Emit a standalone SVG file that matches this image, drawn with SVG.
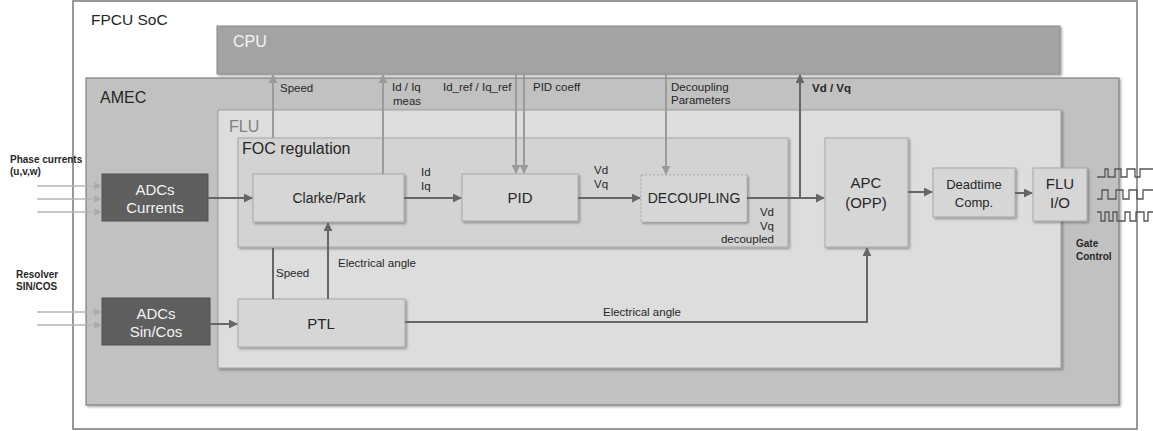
<svg xmlns="http://www.w3.org/2000/svg" width="1153" height="431" viewBox="0 0 1153 431">
<defs>
<style>
.t{font-family:"Liberation Sans",Arial,sans-serif;fill:#262626}
.lbl{font-size:11.5px}
.big{font-size:15px;text-anchor:middle}
.wh{fill:#f4f4f4}
.bold{font-weight:bold;font-size:10px;fill:#262626}
.node{fill:#d6d6d6;stroke:#a8a8a8;stroke-width:1}
.dark{fill:#5f5f5f;stroke:#505050;stroke-width:1}
.c{fill:none;stroke:#666;stroke-width:2}
.cl{fill:none;stroke:#9a9a9a;stroke-width:2}
.in{fill:none;stroke:#b4b4b4;stroke-width:1.5}
</style>
<filter id="sh" x="-10%" y="-10%" width="130%" height="130%"><feDropShadow dx="1.5" dy="1.5" stdDeviation="0.8" flood-color="#000" flood-opacity="0.35"/></filter>
<marker id="ad" viewBox="0 0 10 10" refX="9" refY="5" markerWidth="4.5" markerHeight="4.5" orient="auto"><path d="M0,0 L10,5 L0,10 z" fill="#666"/></marker>
<marker id="al" viewBox="0 0 10 10" refX="9" refY="5" markerWidth="4.5" markerHeight="4.5" orient="auto"><path d="M0,0 L10,5 L0,10 z" fill="#9a9a9a"/></marker>
<marker id="ai" viewBox="0 0 10 10" refX="9" refY="5" markerWidth="5" markerHeight="5" orient="auto"><path d="M0,0 L10,5 L0,10 z" fill="#aaa"/></marker>
</defs>
<rect width="1153" height="431" fill="#fff"/>

<g id="fpcu">
<rect x="73" y="1" width="1064" height="428" fill="#fff" stroke="#777" stroke-width="1.5"/>
<text class="t" x="91" y="25" font-size="15.5">FPCU SoC</text>
</g>
<g id="cpu">
<rect x="217" y="26" width="843" height="48" fill="#a3a3a3" stroke="#8a8a8a" stroke-width="1" filter="url(#sh)"/>
<text class="t wh" x="233" y="47" font-size="16">CPU</text>
</g>
<g id="amec">
<rect x="86" y="78" width="1033" height="327" fill="#c1c1c1" stroke="#707070" stroke-width="1" filter="url(#sh)"/>
<text class="t" x="100" y="103" font-size="16">AMEC</text>
</g>
<g id="flu">
<rect x="218" y="110" width="843" height="258" fill="#dddddd" stroke="#a0a0a0" stroke-width="1" filter="url(#sh)"/>
<text class="t" x="229" y="132" font-size="16" style="fill:#808080">FLU</text>
</g>
<g id="foc">
<rect x="238" y="138" width="550" height="109" fill="#d3d3d3" stroke="#a8a8a8" stroke-width="1" filter="url(#sh)"/>
<text class="t" x="242" y="154" font-size="16">FOC regulation</text>
</g>

<g id="adc-currents">
<rect class="dark" x="102" y="174" width="106" height="47"/>
<text class="t big wh" x="155" y="195">ADCs</text>
<text class="t big wh" x="155" y="213">Currents</text>
</g>
<g id="adc-sincos">
<rect class="dark" x="102" y="298" width="108" height="47"/>
<text class="t big wh" x="156" y="319">ADCs</text>
<text class="t big wh" x="156" y="337">Sin/Cos</text>
</g>
<g id="clarke">
<rect class="node" x="253" y="174" width="151" height="48" filter="url(#sh)"/>
<text class="t" x="329" y="203" font-size="14" text-anchor="middle">Clarke/Park</text>
</g>
<g id="pid">
<rect class="node" x="462" y="174" width="116" height="47" filter="url(#sh)"/>
<text class="t big" x="520" y="203">PID</text>
</g>
<g id="decoupling">
<rect class="node" x="641" y="175" width="106" height="47" stroke-dasharray="2,2" filter="url(#sh)"/>
<text class="t" x="694" y="203" font-size="14" text-anchor="middle">DECOUPLING</text>
</g>
<g id="apc">
<rect class="node" x="825" y="138" width="83" height="109" filter="url(#sh)"/>
<text class="t big" x="866" y="188">APC</text>
<text class="t big" x="866" y="208">(OPP)</text>
</g>
<g id="deadtime">
<rect class="node" x="933" y="168" width="82" height="49" filter="url(#sh)"/>
<text class="t" x="974" y="189" font-size="13" text-anchor="middle">Deadtime</text>
<text class="t" x="974" y="207" font-size="13" text-anchor="middle">Comp.</text>
</g>
<g id="fluio">
<rect class="node" x="1033" y="168" width="54" height="53" filter="url(#sh)"/>
<text class="t big" x="1060" y="189">FLU</text>
<text class="t big" x="1060" y="208">I/O</text>
</g>
<g id="ptl">
<rect class="node" x="238" y="299" width="167" height="48" filter="url(#sh)"/>
<text class="t big" x="321" y="329">PTL</text>
</g>

<g id="connectors">
<path class="in" d="M37,186 H101" marker-end="url(#ai)"/>
<path class="in" d="M37,199 H101" marker-end="url(#ai)"/>
<path class="in" d="M37,212 H101" marker-end="url(#ai)"/>
<path class="in" d="M37,312 H101" marker-end="url(#ai)"/>
<path class="in" d="M37,325 H101" marker-end="url(#ai)"/>
<path class="c" d="M208,198 H252" marker-end="url(#ad)"/>
<path class="c" d="M210,324 H237" marker-end="url(#ad)"/>
<path class="c" d="M404,198 H461" marker-end="url(#ad)"/>
<path class="c" d="M578,198 H640" marker-end="url(#ad)"/>
<path class="c" d="M747,198 H824" marker-end="url(#ad)"/>
<path class="c" d="M800,198 V75" marker-end="url(#ad)"/>
<path class="c" d="M908,192 H932" marker-end="url(#ad)"/>
<path class="c" d="M1015,193 H1032" marker-end="url(#ad)"/>
<path class="c" d="M405,322 H867 V248" marker-end="url(#ad)"/>
<path class="c" d="M328,299 V223" marker-end="url(#ad)"/>
<path class="c" d="M273,299 V248"/>
<path class="cl" d="M273,138 V75" marker-end="url(#al)"/>
<path class="cl" d="M383,174 V75" marker-end="url(#al)"/>
<path class="cl" d="M516,74 V173" marker-end="url(#al)"/>
<path class="cl" d="M524,74 V173" marker-end="url(#al)"/>
<path class="cl" d="M666,74 V174" marker-end="url(#al)"/>
<path fill="none" stroke="#555" stroke-width="1.3" d="M1097,177 H1105 V169 H1108 V177 H1115 V169 H1121 V177 H1127 V169 H1135 V177 H1140 V169 H1153"/>
<path fill="none" stroke="#555" stroke-width="1.3" d="M1097,199 H1102 V190 H1108 V199 H1116 V190 H1123 V199 H1129 V190 H1137 V199 H1143 V190 H1153"/>
<path fill="none" stroke="#555" stroke-width="1.3" d="M1097,212 H1101 V221 H1105 V212 H1109 V221 H1113 V212 H1117 V221 H1125 V212 H1130 V221 H1136 V212 H1144 V221 H1148 V212 H1153"/>
</g>

<g id="labels">
<text class="t bold" x="10" y="163">Phase currents</text>
<text class="t bold" x="10" y="175">(u,v,w)</text>
<text class="t bold" x="16" y="278">Resolver</text>
<text class="t bold" x="16" y="290">SIN/COS</text>
<text class="t bold" x="1076" y="247">Gate</text>
<text class="t bold" x="1076" y="260">Control</text>
<text class="t lbl" x="280" y="92">Speed</text>
<text class="t lbl" x="392" y="91">Id / Iq</text>
<text class="t lbl" x="393" y="105">meas</text>
<text class="t lbl" x="443" y="91">Id_ref / Iq_ref</text>
<text class="t lbl" x="533" y="91">PID coeff</text>
<text class="t lbl" x="671" y="91">Decoupling</text>
<text class="t lbl" x="671" y="104">Parameters</text>
<text class="t lbl" x="812" y="92" font-weight="bold">Vd / Vq</text>
<text class="t lbl" x="421" y="176">Id</text>
<text class="t lbl" x="421" y="190">Iq</text>
<text class="t lbl" x="594" y="174">Vd</text>
<text class="t lbl" x="594" y="188">Vq</text>
<text class="t lbl" x="774" y="216" text-anchor="end">Vd</text>
<text class="t lbl" x="774" y="230" text-anchor="end">Vq</text>
<text class="t lbl" x="774" y="243" text-anchor="end">decoupled</text>
<text class="t lbl" x="276" y="277">Speed</text>
<text class="t lbl" x="338" y="267">Electrical angle</text>
<text class="t lbl" x="603" y="316">Electrical angle</text>
</g>
</svg>
